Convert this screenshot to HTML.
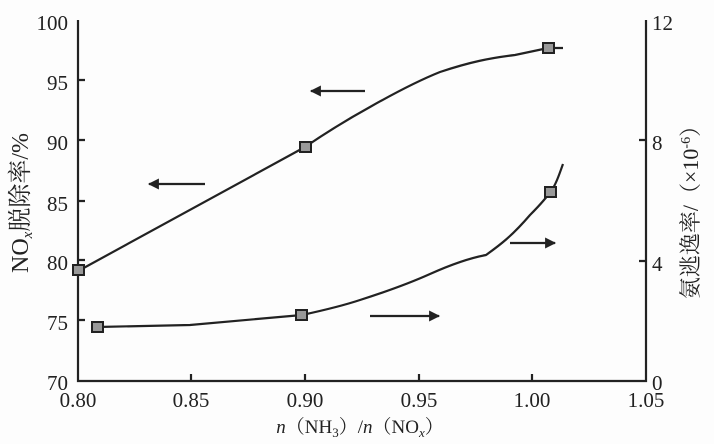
<!DOCTYPE html>
<html><head><meta charset="utf-8"><style>
html,body{margin:0;padding:0;background:#fdfdfd;}
svg{display:block;font-family:"Liberation Serif","Noto Serif CJK SC",serif;}
</style></head><body>
<svg width="714" height="444" viewBox="0 0 714 444" xmlns="http://www.w3.org/2000/svg">
<defs><marker id="ah" viewBox="0 0 10 10" refX="9" refY="5" markerWidth="7" markerHeight="5" orient="auto"><path d="M0,0L10,5L0,10z" fill="#222"/></marker></defs>
<g stroke="#222" stroke-width="2.2" fill="none">
<path d="M78,20V381H646V20"/>
<path d="M78,80h7M78,140h7M78,201h7M78,260h7M78,320h7"/>
<path d="M646,140h-7M646,261h-7"/>
<path d="M191,381v-7M305,381v-7M419,381v-7M532,381v-7"/>
<path d="M80,270 L305,147 C330,130 350,118 370,107 C400,90 420,80 440,72 C470,62 490,58 515,55 L548,48 L563,48"/>
<path d="M97,327 L190,325 L302,315 C325,310 345,305 360,300 C385,292 410,283 430,274 C450,265 470,258 486,255 C500,245 512,236 530,215 C540,205 548,196 553,188 C557,182 560,172 563,164"/>
<path d="M205,184H149" marker-end="url(#ah)"/>
<path d="M365,91H311" marker-end="url(#ah)"/>
<path d="M370,316H439" marker-end="url(#ah)"/>
<path d="M510,243H555" marker-end="url(#ah)"/>
</g>
<g fill="#999" stroke="#222" stroke-width="2">
<rect x="73" y="265" width="11" height="10"/><rect x="300" y="142" width="11" height="10"/><rect x="543" y="43" width="11" height="10"/>
<rect x="92" y="322" width="11" height="10"/><rect x="296" y="310" width="11" height="10"/><rect x="545" y="187" width="11" height="10"/>
</g>
<g font-size="21" fill="#222" text-anchor="end">
<text x="68" y="30">100</text><text x="68" y="90">95</text><text x="68" y="150">90</text><text x="68" y="211">85</text><text x="68" y="270">80</text><text x="68" y="330">75</text><text x="68" y="390">70</text>
</g>
<g font-size="21" fill="#222">
<text x="652" y="30">12</text><text x="652" y="150">8</text><text x="652" y="271">4</text><text x="652" y="390">0</text>
</g>
<g font-size="21" fill="#222" text-anchor="middle">
<text x="78" y="407">0.80</text><text x="191" y="407">0.85</text><text x="305" y="407">0.90</text><text x="419" y="407">0.95</text><text x="532" y="407">1.00</text><text x="646" y="407">1.05</text>
</g>
<text x="360" y="433" font-size="19" fill="#222" text-anchor="middle"><tspan font-style="italic">n</tspan>（NH<tspan font-size="13" dy="4">3</tspan><tspan dy="-4">）/</tspan><tspan font-style="italic">n</tspan>（NO<tspan font-size="13" dy="4" font-style="italic">x</tspan><tspan dy="-4">）</tspan></text>
<text transform="translate(28,203) rotate(-90)" font-size="24" fill="#222" text-anchor="middle">NO<tspan font-size="15" dy="4" font-style="italic">x</tspan><tspan dy="-4">脱除率/%</tspan></text>
<text transform="translate(698,207) rotate(-90)" font-size="22" fill="#222" text-anchor="middle">氨逃逸率/（×10<tspan font-size="14" dy="-8">-6</tspan><tspan dy="8">）</tspan></text>
</svg>
</body></html>
